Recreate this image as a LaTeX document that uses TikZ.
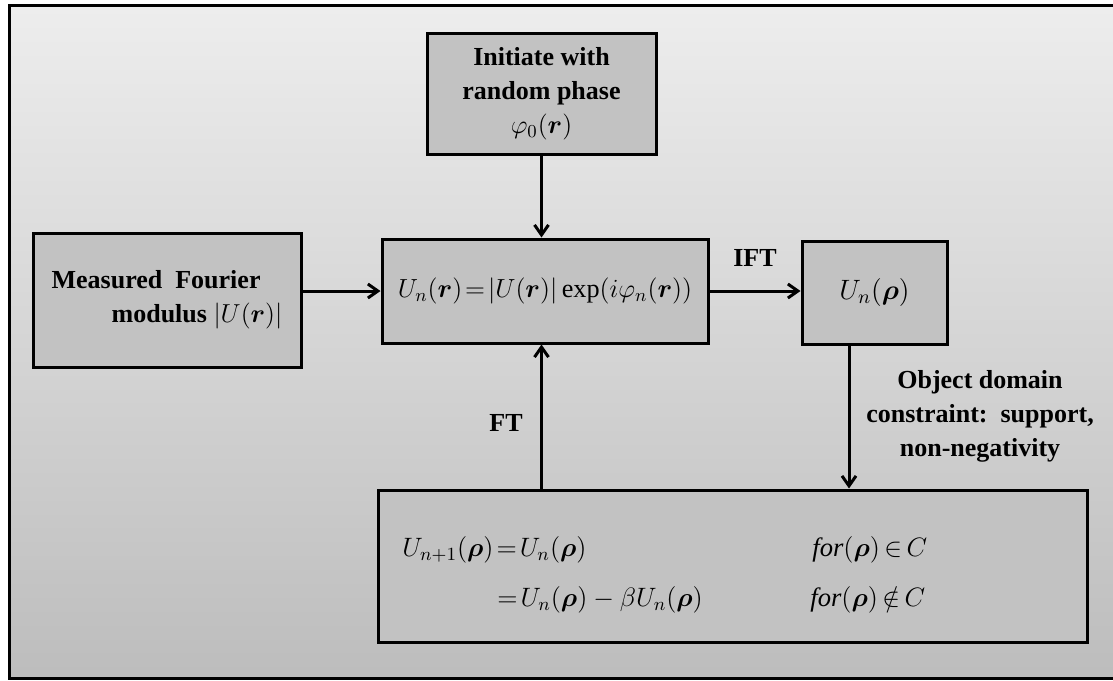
\RequirePackage{fix-cm}
\documentclass[tikz,border=0pt]{standalone}
\usepackage{bm}
\usepackage{fontspec}
\setmainfont{Liberation Serif}
\usetikzlibrary{arrows.meta}
\newcommand{\pr}[1]{\bigl(#1\bigr)}
\begin{document}
\begin{tikzpicture}[x=0.5pt,y=-0.5pt,
    box/.style={draw, line width=1.5pt, fill=black!24, inner sep=0pt, align=center},
    flow/.style={line width=1.5pt, -{Straight Barb[length=5pt,width=7pt]}},
    lbl/.style={font=\fontsize{13}{17}\selectfont\bfseries, align=center},
    eq/.style={font=\fontsize{13.3}{16}\selectfont, inner sep=0pt}]
    \useasboundingbox (0,0) rectangle (1113,680);
    \shade[top color=black!7, bottom color=black!26] (9,5) rectangle (1113,678);
    \draw[line width=1.5pt] (1114,5) -- (9,5) -- (9,678) -- (1114,678);
    % boxes
    \node[box, lbl, minimum width=114.5pt, minimum height=60.5pt] (init) at (541.5,93.5)
        {Initiate with\\random phase\\\mdseries$\varphi_0\pr{\bm{r}}$};
    \node[box, lbl, align=left, minimum width=134pt, minimum height=67pt] (meas) at (167,300)
        {Measured\ \ Fourier\\\hspace*{30pt}modulus $\bigl|U(\bm{r})\bigr|$};
    \node[box, eq, font=\fontsize{13.1}{16}\selectfont, minimum width=163pt, minimum height=52pt] (upd) at (545,291)
        {$U_n\pr{\bm{r}}\!=\!\bigl|U(\bm{r})\bigr|\exp\bigl(i\varphi_n\pr{\bm{r}}\bigr)$};
    \node[box, eq, font=\fontsize{14}{17}\selectfont, minimum width=72.5pt, minimum height=51.5pt] (obj) at (874.5,292.5)
        {$U_n\pr{\bm{\rho}}$};
    \node[box, minimum width=354.5pt, minimum height=76pt] (cons) at (732.5,566) {};
    \node[eq, anchor=west] (eqa) at (402,550) {$U_{n+1}\pr{\bm{\rho}}\!=\!U_n\pr{\bm{\rho}}$};
    \node[eq, anchor=west] (eqb) at (497,600) {$=\!U_n\pr{\bm{\rho}}-\beta U_n\pr{\bm{\rho}}$};
    \node[eq, anchor=west] (inc) at (812,550) {$\mathit{for}\pr{\bm{\rho}}\,{\in}\,C$};
    \node[eq, anchor=west] (exc) at (810,600) {$\mathit{for}\pr{\bm{\rho}}\,{\notin}\,C$};
    % connectors
    \draw[flow] (init.south) -- (init.south |- upd.north);
    \draw[flow] (upd.west -| meas.east) -- (upd.west);
    \draw[flow] (upd.east) -- (upd.east -| obj.west);
    \draw[flow] ([xshift=-12.75pt]obj.south) -- ([xshift=-12.75pt]obj.south |- cons.north);
    \draw[flow] (init.south |- cons.north) -- (init.south |- upd.south);
    % labels
    \node[lbl] (ift) at (755,258) {IFT};
    \node[lbl] (ft) at (506,423) {FT};
    \node[lbl] (dom) at (980,416) {Object domain\\constraint:\ \ support,\\non-negativity};
\end{tikzpicture}
\end{document}
